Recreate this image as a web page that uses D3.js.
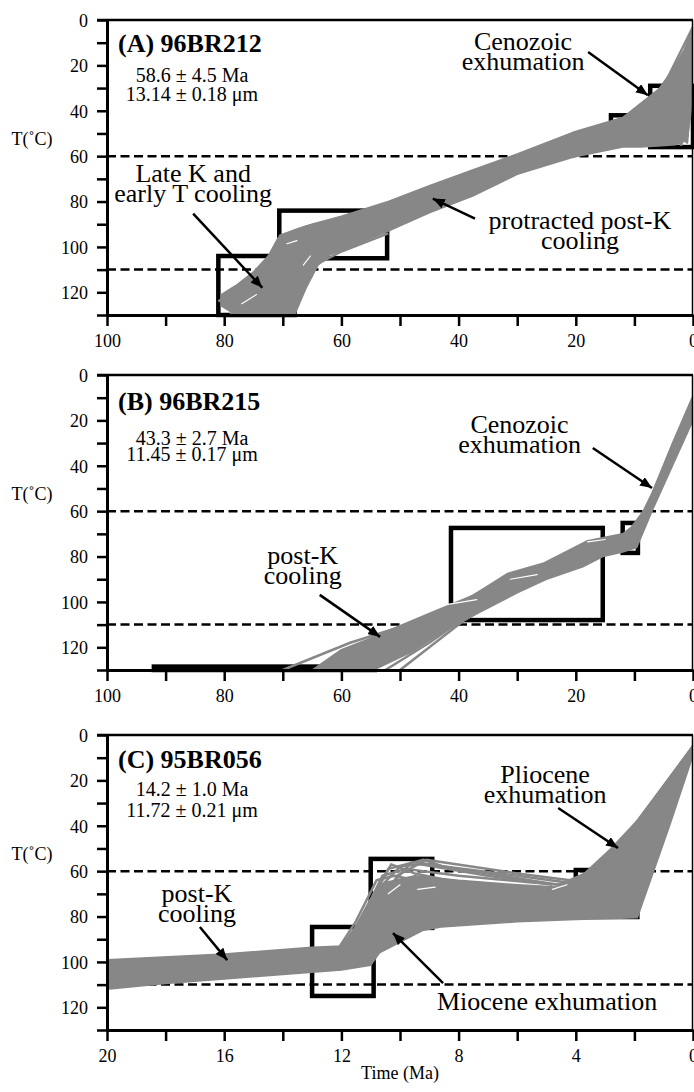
<!DOCTYPE html>
<html>
<head>
<meta charset="utf-8">
<script src="https://cdn.jsdelivr.net/npm/d3@7"></script>
<style>
  body { margin: 0; background: #fff; }
  svg { display: block; }
</style>
</head>
<body>
<svg id="chart" width="694" height="1092"></svg>
<script>
// ---- data (time in Ma, temperature in °C) ----
const panelLabels = ['(A) 96BR212', '(B) 96BR215', '(C) 95BR056'];
const ftAges = ['58.6 \u00b1 4.5 Ma', '43.3 \u00b1 2.7 Ma', '14.2 \u00b1 1.0 Ma'];
const trackLengths = ['13.14 \u00b1 0.18 \u03bcm', '11.45 \u00b1 0.17 \u03bcm', '11.72 \u00b1 0.21 \u03bcm'];

const timeDomains = [[100, 0], [100, 0], [20, 0]];
const timeTicks = [
  [100, 90, 80, 70, 60, 50, 40, 30, 20, 10, 0],
  [100, 90, 80, 70, 60, 50, 40, 30, 20, 10, 0],
  [20, 18, 16, 14, 12, 10, 8, 6, 4, 2, 0]
];
const timeTickLabels = [
  [100, 80, 60, 40, 20, 0],
  [100, 80, 60, 40, 20, 0],
  [20, 16, 12, 8, 4, 0]
];
const tempTicks = [0, 10, 20, 30, 40, 50, 60, 70, 80, 90, 100, 110, 120, 130];
const tempTickLabels = [0, 20, 40, 60, 80, 100, 120];
const pazLimits = [60, 110];

// constraint boxes: [tOld, tYoung, Ttop, Tbottom]
const boxesA = [[81, 68, 104, 130], [70.6, 52.2, 84, 105], [14, 10.5, 42, 54], [7.3, 0, 29, 56]];
const boxesB = [[92, 54.3, 128.5, 130], [41.3, 15.4, 67.4, 108], [12, 9.4, 65.2, 78.4]];
const boxesC = [[13, 10.9, 84.6, 115], [11, 8.9, 54.6, 85], [4, 1.9, 59.5, 80.2]];

// outline of the dense bundle of accepted t-T paths
const bundleA = [
  [80.5, 121], [78, 117], [75, 111], [72.5, 104], [70.8, 96], [68, 92.5], [65, 90], [60, 86.5],
  [52, 80], [45, 73], [37.5, 66], [30, 59], [20.5, 49.5], [12, 43], [9, 37], [6, 31], [3.5, 22],
  [1.5, 13], [0, 3], [0, 22], [0.4, 42], [1, 53], [3, 55], [6, 55.5], [9, 56], [12, 56],
  [20.5, 60.5], [30, 68], [37.5, 77.5], [45, 85], [52, 93], [58, 99.5], [62, 103.5], [64, 108],
  [66, 118], [68, 130], [78, 130], [80.5, 126]
];
const bundleB = [
  [65, 130], [60, 121], [55, 116], [50.5, 111], [44, 104], [37.5, 97], [31.7, 87.5], [25.6, 83],
  [18, 73], [12, 70], [10.5, 67], [8.5, 60], [7, 52], [3.5, 30], [0, 9],
  [0, 20], [3.5, 40], [7, 60], [9.6, 76], [12, 78], [15.4, 80], [18.8, 84.5], [25, 90], [30, 96],
  [37.5, 106], [42, 112], [48, 122], [54.5, 130]
];
const bundleC = [
  [20, 99], [16, 96.5], [13, 93.5], [12, 93], [11.5, 84], [11, 72], [10.5, 65], [9.5, 62],
  [8, 64], [6, 66], [4.6, 67], [3.8, 62], [2.8, 50], [1.2, 28], [0, 5],
  [0, 9], [0.8, 40], [1.9, 80.5], [4, 81.3], [6, 82.3], [8.6, 84.6], [9.2, 86], [10.7, 96],
  [11, 101.5], [12, 103.6], [14, 105.5], [16, 107.5], [18, 109.5], [20, 112]
];

// individual paths that stick out of the bundle
const pathsA = [
  [[81, 124], [76, 116], [71, 103], [70.5, 95], [66, 91], [60, 87], [50, 79], [40, 69], [30, 60], [20, 50], [12, 43.5], [5, 29], [0, 3]],
  [[79, 130], [74, 118], [71, 107], [69, 100], [64, 96], [55, 89]],
  [[70, 130], [67, 117], [64.5, 108], [60, 102], [52, 94]],
  [[14, 46], [8, 44], [4, 50], [2, 55], [0.5, 40], [0, 12]],
  [[11, 44], [6, 42], [3, 53], [1.5, 48], [0, 8]],
  [[9, 40], [5, 36], [2.5, 50], [1, 54], [0, 15]]
];
const pathsB = [
  [[70, 130], [58.5, 118], [50, 111], [40, 101], [32, 89]],
  [[52.5, 130], [45, 118], [40, 109], [33, 99]],
  [[50, 130], [44, 118], [39, 108], [32, 97]]
];
const pathsC = [
  [[12, 95], [11.3, 80], [10.3, 57], [9.5, 61], [8, 65], [5, 68.5], [4, 66], [3, 56], [2, 42], [0, 5]],
  [[11.6, 90], [11, 73], [10.4, 59], [9.2, 55], [8.5, 58], [6, 62], [4.3, 65], [3.6, 62], [2.6, 50], [0, 5]],
  [[11.2, 88], [10.6, 70], [9.6, 56], [9, 57], [7, 61], [4.6, 66], [3.5, 61], [2.4, 47], [0, 5]],
  [[12.2, 96], [11.5, 82], [10.8, 64], [10.2, 62], [8, 68], [4, 69], [3, 58], [0, 5]],
  [[11.4, 88], [10.9, 70], [10, 58], [9.3, 57], [7, 62], [4.8, 66]],
  [[11.8, 92], [11.2, 78], [10.6, 62], [9.8, 59], [8, 62], [5.5, 65], [4.5, 66]],
  [[10.8, 80], [10.1, 62], [9.1, 55], [8.6, 56], [6, 61], [4.2, 64], [3.5, 60], [2.5, 48]]
];

// thin light streaks seen between individual paths inside the bundles
const streaksA = [[[69.3, 98.6], [67.6, 97.2]], [[66.5, 108], [65.3, 104]], [[77, 125], [74.5, 121]]];
const streaksB = [[[47.8, 103.6], [36.9, 99]], [[31.2, 90], [26.6, 88]], [[18, 73.5], [15, 72.5]]];
const streaksC = [[[4.8, 68], [4.3, 66]], [[10.4, 70], [10, 66]], [[9.4, 68], [8.8, 67]]];

// annotations, anchored in data units
const notesA = [
  { lines: ['Late K and', 'early T cooling'], at: [85.3, 71.6], arrow: [[85.3, 85.3], [73.5, 118]] },
  { lines: ['Cenozoic', 'exhumation'], at: [29, 13.3], arrow: [[17.9, 14.1], [7.7, 33.2]] },
  { lines: ['protracted post-K', 'cooling'], at: [19.3, 92], arrow: [[37.2, 87.5], [44.4, 78.7]] }
];
const notesB = [
  { lines: ['post-K', 'cooling'], at: [66.6, 83.3], arrow: [[63.7, 96.9], [53.4, 115.4]] },
  { lines: ['Cenozoic', 'exhumation'], at: [29.6, 25.6], arrow: [[17.1, 32.2], [7.0, 49.8]] }
];
const notesC = [
  { lines: ['post-K', 'cooling'], at: [16.93, 73.6], arrow: [[16.83, 84.6], [15.9, 99.2]] },
  { lines: ['Pliocene', 'exhumation'], at: [5.05, 21.2], arrow: [[4.6, 32.2], [2.56, 49.8]] },
  { lines: ['Miocene exhumation'], at: [4.98, 121.2], arrow: [[8.53, 109.3], [10.24, 87.3]] }
];

const allBoxes = [boxesA, boxesB, boxesC];
const allBundles = [bundleA, bundleB, bundleC];
const allPaths = [pathsA, pathsB, pathsC];
const allStreaks = [streaksA, streaksB, streaksC];
const allNotes = [notesA, notesB, notesC];

// ---- layout ----
const serif = '"Liberation Serif", "Times New Roman", Times, serif';
const left = 107, right = 693, panelH = 295;
const panelTops = [20, 375, 735];
const headerY = [[52, 82, 101], [410, 445, 461], [768, 796, 817]];
const pathGray = '#878787';

const svg = d3.select('#chart');
const defs = svg.append('defs');
defs.append('marker')
  .attr('id', 'arrowhead')
  .attr('viewBox', '0 0 12 10')
  .attr('refX', 12).attr('refY', 5)
  .attr('markerWidth', 12).attr('markerHeight', 10)
  .attr('markerUnits', 'userSpaceOnUse')
  .attr('orient', 'auto')
  .append('path')
  .attr('d', 'M0,0 L12,5 L0,10 Z')
  .attr('fill', '#000');

panelTops.forEach((top, i) => {
  const x = d3.scaleLinear().domain(timeDomains[i]).range([left, right]);
  const y = d3.scaleLinear().domain([0, 130]).range([top, top + panelH]);
  const g = svg.append('g').attr('class', 'panel');

  defs.append('clipPath').attr('id', 'clip' + i)
    .append('rect')
    .attr('x', left).attr('y', top)
    .attr('width', right - left).attr('height', panelH);

  // partial annealing zone limits
  g.selectAll('line.paz')
    .data(pazLimits)
    .join('line')
    .attr('class', 'paz')
    .attr('x1', left).attr('x2', right)
    .attr('y1', d => y(d)).attr('y2', d => y(d))
    .attr('stroke', '#000')
    .attr('stroke-width', 2.5)
    .attr('stroke-dasharray', '9,4.5');

  // constraint boxes
  g.selectAll('rect.box')
    .data(allBoxes[i])
    .join('rect')
    .attr('class', 'box')
    .attr('x', d => x(d[0]))
    .attr('y', d => y(d[2]))
    .attr('width', d => x(d[1]) - x(d[0]))
    .attr('height', d => y(d[3]) - y(d[2]))
    .attr('fill', 'none')
    .attr('stroke', '#000')
    .attr('stroke-width', 4.5);

  const line = d3.line().x(d => x(d[0])).y(d => y(d[1]));
  const paths = g.append('g').attr('clip-path', `url(#clip${i})`);

  paths.append('path')
    .attr('d', line(allBundles[i]) + 'Z')
    .attr('fill', pathGray)
    .attr('stroke', pathGray)
    .attr('stroke-width', 1.5)
    .attr('stroke-linejoin', 'round');

  paths.selectAll('path.tt')
    .data(allPaths[i])
    .join('path')
    .attr('class', 'tt')
    .attr('d', line)
    .attr('fill', 'none')
    .attr('stroke', pathGray)
    .attr('stroke-width', 2.5)
    .attr('stroke-linejoin', 'round');

  paths.selectAll('path.streak')
    .data(allStreaks[i])
    .join('path')
    .attr('class', 'streak')
    .attr('d', line)
    .attr('fill', 'none')
    .attr('stroke', '#fff')
    .attr('stroke-width', 1.2)
    .attr('stroke-linecap', 'round');

  // frame
  g.append('line')
    .attr('x1', left - 10).attr('x2', right)
    .attr('y1', top).attr('y2', top)
    .attr('stroke', '#000').attr('stroke-width', 2.5);
  g.append('line')
    .attr('x1', right - 0.5).attr('x2', right - 0.5)
    .attr('y1', top).attr('y2', top + panelH)
    .attr('stroke', '#000').attr('stroke-width', 1.5);

  // axes
  const yAxis = d3.axisLeft(y)
    .tickValues(tempTicks)
    .tickSize(10)
    .tickSizeOuter(0)
    .tickFormat(d => tempTickLabels.includes(d) ? d : '');
  const ya = g.append('g').attr('transform', `translate(${left},0)`).call(yAxis);
  ya.selectAll('text').attr('x', -19).attr('dy', '0.35em');

  const xAxis = d3.axisBottom(x)
    .tickValues(timeTicks[i])
    .tickSize(11)
    .tickSizeOuter(0)
    .tickFormat(d => timeTickLabels[i].includes(d) ? d : '');
  const xa = g.append('g').attr('transform', `translate(0,${top + panelH})`).call(xAxis);
  xa.selectAll('text').attr('y', 32).attr('dy', 0);

  [ya, xa].forEach(a => {
    a.selectAll('path.domain').attr('stroke-width', 3);
    a.selectAll('.tick line').attr('stroke-width', 2.5);
    a.selectAll('text')
      .attr('font-family', serif)
      .attr('font-size', 18)
      .attr('fill', '#000');
  });

  g.append('text')
    .attr('x', 32).attr('y', top + 125)
    .attr('text-anchor', 'middle')
    .attr('font-family', serif).attr('font-size', 18)
    .text('T(\u02daC)');

  // header
  g.append('text')
    .attr('x', 118).attr('y', headerY[i][0])
    .attr('font-family', serif).attr('font-size', 26).attr('font-weight', 'bold')
    .text(panelLabels[i]);
  g.append('text')
    .attr('x', 192).attr('y', headerY[i][1])
    .attr('text-anchor', 'middle')
    .attr('font-family', serif).attr('font-size', 20)
    .text(ftAges[i]);
  g.append('text')
    .attr('x', 192).attr('y', headerY[i][2])
    .attr('text-anchor', 'middle')
    .attr('font-family', serif).attr('font-size', 20)
    .text(trackLengths[i]);

  // annotations
  allNotes[i].forEach(n => {
    const t = g.append('text')
      .attr('x', x(n.at[0])).attr('y', y(n.at[1]))
      .attr('text-anchor', 'middle')
      .attr('font-family', serif).attr('font-size', 26);
    n.lines.forEach((s, k) => {
      t.append('tspan')
        .attr('x', x(n.at[0]))
        .attr('dy', k === 0 ? 0 : 20)
        .text(s);
    });
    g.append('line')
      .attr('x1', x(n.arrow[0][0])).attr('y1', y(n.arrow[0][1]))
      .attr('x2', x(n.arrow[1][0])).attr('y2', y(n.arrow[1][1]))
      .attr('stroke', '#000')
      .attr('stroke-width', 2.5)
      .attr('marker-end', 'url(#arrowhead)');
  });
});

svg.append('text')
  .attr('x', 400).attr('y', 1079)
  .attr('text-anchor', 'middle')
  .attr('font-family', serif).attr('font-size', 18)
  .text('Time (Ma)');
</script>
</body>
</html>
